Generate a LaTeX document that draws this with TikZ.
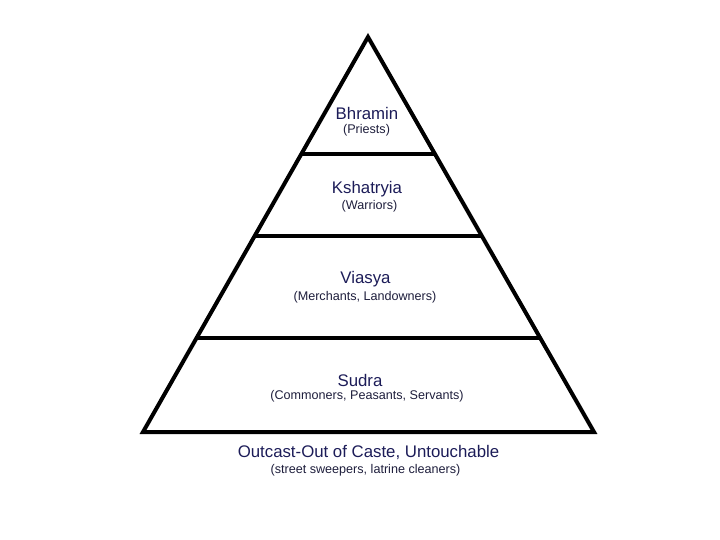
\documentclass[tikz,border=0pt]{standalone}
\usepackage{fontspec}
\setmainfont{Liberation Sans}
\definecolor{titlec}{RGB}{28,28,88}
\definecolor{subc}{RGB}{30,30,60}
\begin{document}
\begin{tikzpicture}[x=1pt,y=-1pt,
  tier/.style={font=\fontsize{16.8}{18}\selectfont, text=titlec, inner sep=0pt},
  subtier/.style={font=\fontsize{12.6}{14}\selectfont, text=subc, inner sep=0pt},
  edge/.style={line width=4pt, line join=miter, black}]
\useasboundingbox (0,0) rectangle (720,540);
\coordinate (apex) at (368,37);
\coordinate (bl) at (143,432);
\coordinate (br) at (594,432);
\draw[edge] (bl) -- (apex) -- (br) -- cycle;
\coordinate (l1) at (301.5,154); \coordinate (r1) at (434.5,154);
\coordinate (l2) at (254.5,236); \coordinate (r2) at (481.5,236);
\coordinate (l3) at (196.5,338); \coordinate (r3) at (540,338);
\draw[edge] (l1) -- (r1);
\draw[edge] (l2) -- (r2);
\draw[edge] (l3) -- (r3);
\node[tier] (bhr) at (367,113) {Bhramin};
\node[subtier] (bhrs) at (366.5,130) {(Priests)};
\node[tier] (ksh) at (367,189) {Kshatryia};
\node[subtier] (kshs) at (369.5,206) {(Warriors)};
\node[tier] (via) at (365.5,279) {Viasya};
\node[subtier] (vias) at (365,297.5) {(Merchants, Landowners)};
\node[tier] (sud) at (360,380.5) {Sudra};
\node[subtier] (suds) at (367,396) {(Commoners, Peasants, Servants)};
\node[tier] (out) at (368.5,452) {Outcast-Out of Caste, Untouchable};
\node[subtier] (outs) at (365.5,470) {(street sweepers, latrine cleaners)};
\end{tikzpicture}
\end{document}
